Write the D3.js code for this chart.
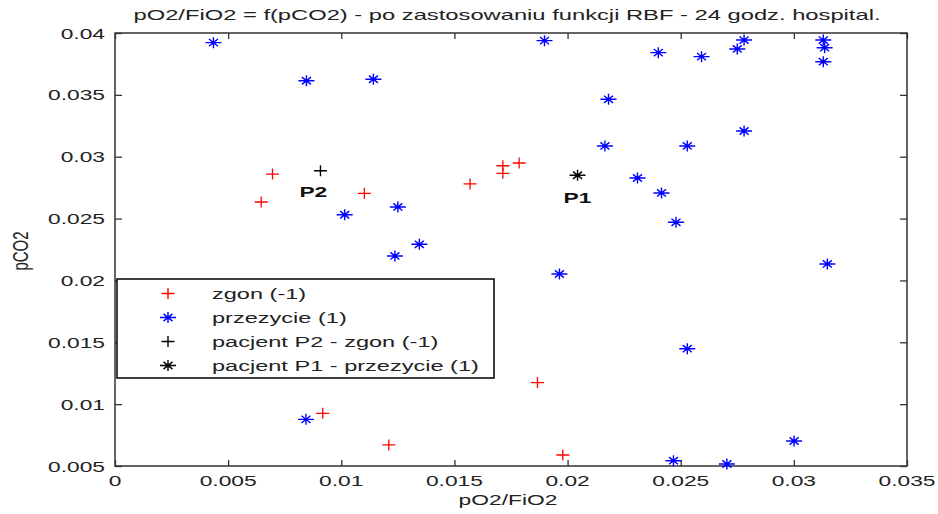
<!DOCTYPE html>
<html>
<head>
<meta charset="utf-8">
<script src="https://cdn.jsdelivr.net/npm/d3@7"></script>
<style>
  html, body { margin: 0; padding: 0; background: #fff; }
  svg { display: block; }
  text { font-family: "Liberation Sans", Arial, sans-serif; fill: #222; }
</style>
</head>
<body>
<svg id="chart" width="938" height="514"></svg>
<script>
// ---- data ----
const titleText = "pO2/FiO2 = f(pCO2) - po zastosowaniu funkcji RBF - 24 godz. hospital.";
const xLabel = "pO2/FiO2";
const yLabel = "pCO2";
const xTicks = [0, 0.005, 0.01, 0.015, 0.02, 0.025, 0.03, 0.035];
const yTicks = [0.005, 0.01, 0.015, 0.02, 0.025, 0.03, 0.035, 0.04];

// zgon (-1): [pO2/FiO2, pCO2]
const zgonX = [0.00646, 0.00696, 0.01102, 0.01569, 0.01714, 0.01714, 0.01786, 0.00918, 0.01210, 0.01867, 0.01979];
const zgonY = [0.02634, 0.02860, 0.02704, 0.02780, 0.02866, 0.02927, 0.02949, 0.00926, 0.00670, 0.01174, 0.00589];

// przezycie (1)
const przX = [0.00435, 0.00846, 0.01142, 0.01015, 0.01250, 0.01345, 0.01237, 0.00844,
              0.01898, 0.02401, 0.02592, 0.02750, 0.02780, 0.03130, 0.03136, 0.03130,
              0.02181, 0.02165, 0.02529, 0.02780, 0.02309, 0.02415, 0.02479,
              0.01964, 0.03148, 0.02529, 0.02468, 0.02704, 0.03001];
const przY = [0.03922, 0.03614, 0.03626, 0.02531, 0.02594, 0.02292, 0.02198, 0.00877,
              0.03938, 0.03841, 0.03809, 0.03871, 0.03943, 0.03943, 0.03881, 0.03768,
              0.03464, 0.03087, 0.03087, 0.03208, 0.02828, 0.02707, 0.02470,
              0.02052, 0.02133, 0.01448, 0.00543, 0.00516, 0.00702];

// patients
const patientNames = ["P2", "P1"];
const patientX = [0.00908, 0.02044];
const patientY = [0.02887, 0.02850];
const patientMarker = ["plus", "star"];
const patientLabelX = [0.00815, 0.01982];
const patientLabelY = [0.02677, 0.02628];

const legendLabels = ["zgon (-1)", "przezycie (1)", "pacjent P2 - zgon (-1)", "pacjent P1 - przezycie (1)"];
const legendMarkers = ["plus", "star", "plus", "star"];
const legendColors = ["#ff0000", "#0000ff", "#000000", "#000000"];

// ---- drawing ----
const svg = d3.select("#chart");
const SX = 1.52; // horizontal text stretch of the reference
const plot = { left: 115, right: 907, top: 33, bottom: 466 };

const x = d3.scaleLinear().domain([0, 0.035]).range([plot.left, plot.right]);
const y = d3.scaleLinear().domain([0.005, 0.04]).range([plot.bottom, plot.top]);

const fmt = d => String(+d.toFixed(3));

const plusPath = "M-6.5,0H6.5M0,-5.5V5.5";
const starPath = "M-8,0H8M0,-5.5V5.5M-4.5,-3.6L4.5,3.6M-4.5,3.6L4.5,-3.6";
const markerPath = m => m === "plus" ? plusPath : starPath;

function stretchedText(g, tx, ty, str, opts = {}) {
  const sx = opts.sx || SX;
  const t = g.append("text")
    .attr("transform", `translate(${tx},${ty}) scale(${sx},1)` + (opts.rotate ? ` rotate(${opts.rotate})` : ""))
    .attr("text-anchor", opts.anchor || "start")
    .style("font-size", (opts.size || 15) + "px")
    .text(str);
  if (opts.bold) t.style("font-weight", "bold");
  return t;
}

// axes ticks (inward), box drawn separately
const axisColor = "#333";
const gx = svg.append("g").attr("transform", `translate(0,${plot.bottom})`)
  .call(d3.axisBottom(x).tickValues(xTicks).tickSizeInner(-6).tickSizeOuter(0).tickFormat(""));
const gxt = svg.append("g").attr("transform", `translate(0,${plot.top})`)
  .call(d3.axisTop(x).tickValues(xTicks).tickSizeInner(-6).tickSizeOuter(0).tickFormat(""));
const gy = svg.append("g").attr("transform", `translate(${plot.left},0)`)
  .call(d3.axisLeft(y).tickValues(yTicks).tickSizeInner(-7).tickSizeOuter(0).tickFormat(""));
const gyr = svg.append("g").attr("transform", `translate(${plot.right},0)`)
  .call(d3.axisRight(y).tickValues(yTicks).tickSizeInner(-7).tickSizeOuter(0).tickFormat(""));
[gx, gxt, gy, gyr].forEach(g => {
  g.select(".domain").remove();
  g.selectAll("line").attr("stroke", axisColor).attr("stroke-width", 1.3);
});

svg.append("rect")
  .attr("x", plot.left).attr("y", plot.top)
  .attr("width", plot.right - plot.left).attr("height", plot.bottom - plot.top)
  .attr("fill", "none").attr("stroke", axisColor).attr("stroke-width", 1.5);

// tick labels
const labelsG = svg.append("g");
xTicks.forEach(v => stretchedText(labelsG, x(v), plot.bottom + 20, fmt(v), { anchor: "middle" }));
yTicks.forEach(v => stretchedText(labelsG, plot.left - 10, y(v) + 5.5, fmt(v), { anchor: "end" }));

// axis labels & title
stretchedText(svg, (plot.left + plot.right) / 2 - 3, 505, xLabel, { anchor: "middle" });
stretchedText(svg, 28, 251, yLabel, { anchor: "middle", rotate: -90 });
svg.append("text")
  .attr("x", 507).attr("y", 20)
  .attr("text-anchor", "middle")
  .attr("textLength", 747).attr("lengthAdjust", "spacingAndGlyphs")
  .style("font-size", "15px")
  .text(titleText);

// data marks
const marks = svg.append("g");
marks.selectAll("path.zgon")
  .data(d3.zip(zgonX, zgonY)).join("path")
  .attr("class", "zgon")
  .attr("transform", d => `translate(${x(d[0])},${y(d[1])})`)
  .attr("d", plusPath).attr("stroke", "#ff0000").attr("stroke-width", 1.3).attr("fill", "none");
marks.selectAll("path.prz")
  .data(d3.zip(przX, przY)).join("path")
  .attr("class", "prz")
  .attr("transform", d => `translate(${x(d[0])},${y(d[1])})`)
  .attr("d", starPath).attr("stroke", "#0000ff").attr("stroke-width", 1.4).attr("fill", "none");
marks.selectAll("path.pat")
  .data(d3.range(patientNames.length)).join("path")
  .attr("class", "pat")
  .attr("transform", i => `translate(${x(patientX[i])},${y(patientY[i])})`)
  .attr("d", i => markerPath(patientMarker[i])).attr("stroke", "#000").attr("stroke-width", 1.4).attr("fill", "none");
patientNames.forEach((n, i) =>
  stretchedText(marks, x(patientLabelX[i]), y(patientLabelY[i]), n, { bold: true, size: 15 }).style("fill", "#111"));

// legend
const lg = svg.append("g");
lg.append("rect").attr("x", 117).attr("y", 279).attr("width", 377).attr("height", 99)
  .attr("fill", "#fff").attr("stroke", "#000").attr("stroke-width", 1.5);
legendLabels.forEach((lab, i) => {
  const cy = 293.5 + i * 24;
  lg.append("path").attr("transform", `translate(168,${cy})`)
    .attr("d", markerPath(legendMarkers[i])).attr("stroke", legendColors[i])
    .attr("stroke-width", 1.4).attr("fill", "none");
  stretchedText(lg, 212, cy + 5.5, lab, { sx: 1.57 });
});
</script>
</body>
</html>
